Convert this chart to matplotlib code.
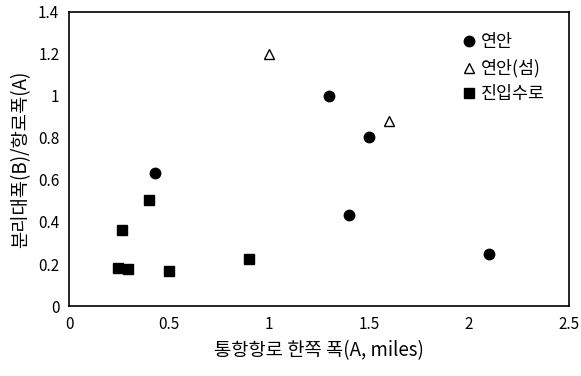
import matplotlib
matplotlib.use("Agg")
import matplotlib.pyplot as plt

plt.rcParams['font.family'] = ['Noto Sans CJK KR', 'DejaVu Sans']

# 연안
coast_x = [0.43, 1.3, 1.5, 1.4, 2.1]
coast_y = [0.635, 1.0, 0.805, 0.432, 0.249]
# 연안(섬)
island_x = [1.0, 1.6]
island_y = [1.2, 0.88]
# 진입수로
entry_x = [0.4, 0.265, 0.243, 0.297, 0.5, 0.9]
entry_y = [0.506, 0.361, 0.181, 0.175, 0.167, 0.222]

xticks = [0, 0.5, 1, 1.5, 2, 2.5]
xticklabels = ['0', '0.5', '1', '1.5', '2', '2.5']
yticks = [0, 0.2, 0.4, 0.6, 0.8, 1, 1.2, 1.4]
yticklabels = ['0', '0.2', '0.4', '0.6', '0.8', '1', '1.2', '1.4']

fig = plt.figure(figsize=(5.81, 3.76), dpi=100)
ax = fig.add_axes([0.1188, 0.186, 0.8606, 0.783])

ax.plot(coast_x, coast_y, 'o', color='black', markersize=7.5, label='연안')
ax.plot(island_x, island_y, '^', color='black', markerfacecolor='white',
        markersize=6.5, markeredgewidth=1.0, label='연안(섬)')
ax.plot(entry_x, entry_y, 's', color='black', markersize=7.5, label='진입수로')

ax.set_xlim(0, 2.5)
ax.set_ylim(0, 1.4)
ax.set_xticks(xticks)
ax.set_xticklabels(xticklabels)
ax.set_yticks(yticks)
ax.set_yticklabels(yticklabels)
ax.tick_params(length=0, labelsize=11, pad=7)
for s in ax.spines.values():
    s.set_linewidth(1.2)

ax.set_xlabel('통항항로 한쪽 폭(A, miles)', fontsize=13.5, labelpad=5)
ax.set_ylabel('분리대폭(B)/항로폭(A)', fontsize=13.5, labelpad=5)

ax.legend(loc='upper right', bbox_to_anchor=(0.965, 0.95), frameon=False,
          fontsize=12.5, handletextpad=0.15, handlelength=1.0,
          borderaxespad=0.0, labelspacing=0.45)

fig.savefig('out.png', dpi=100)
